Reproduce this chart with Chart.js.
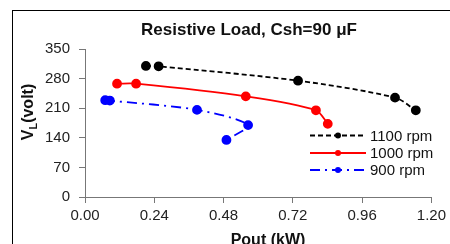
<!DOCTYPE html>
<html>
<head>
<meta charset="utf-8">
<script src="https://cdn.jsdelivr.net/npm/chart.js@4/dist/chart.umd.min.js"></script>
<style>
  html, body { margin: 0; padding: 0; background: #fff; }
  #wrap { width: 450px; height: 244px; position: relative; }
</style>
</head>
<body>
<div id="wrap"><canvas id="vlChart" width="450" height="244"></canvas></div>
<script>
const titleText = 'Resistive Load, Csh=90 μF';
const xTitle = 'Pout (kW)';

const rpm1100 = '1100 rpm';
const pout1100 = [0.211, 0.255, 0.738, 1.074, 1.146];
const vl1100 = [310, 309, 275, 235, 205];

const rpm1000 = '1000 rpm';
const pout1000 = [0.111, 0.177, 0.557, 0.800, 0.841];
const vl1000 = [268, 268, 238, 205, 173];

const rpm900 = '900 rpm';
const pout900 = [0.070, 0.086, 0.388, 0.565, 0.490];
const vl900 = [229, 228, 206, 170, 135];

const xTicks = [0, 0.24, 0.48, 0.72, 0.96, 1.2];
const yTicks = [0, 70, 140, 210, 280, 350];

const toPts = (xs, ys) => xs.map((x, i) => ({ x: x, y: ys[i] }));

// frame, titles and legend drawn on the canvas
const decorPlugin = {
  id: 'decor',
  beforeDraw(chart) {
    const ctx = chart.ctx;
    ctx.save();
    ctx.fillStyle = '#fff';
    ctx.fillRect(0, 0, chart.width, chart.height);
    ctx.strokeStyle = '#000';
    ctx.lineWidth = 1;
    ctx.strokeRect(12.5, 10.5, 600, 400);
    ctx.restore();
  },
  afterDraw(chart) {
    const ctx = chart.ctx;
    ctx.save();
    ctx.fillStyle = '#111';

    ctx.font = 'bold 17px "Liberation Sans", Arial';
    ctx.textAlign = 'center';
    ctx.textBaseline = 'middle';
    ctx.fillText(titleText, 249, 30);

    ctx.font = 'bold 16px "Liberation Sans", Arial';
    ctx.textBaseline = 'alphabetic';
    ctx.fillText(xTitle, 268, 245);

    // y title: V with subscript L
    ctx.translate(33, 112);
    ctx.rotate(-Math.PI / 2);
    ctx.textAlign = 'left';
    const big = 'bold 16px "Liberation Sans", Arial';
    const small = 'bold 11px "Liberation Sans", Arial';
    ctx.font = big;
    const wV = ctx.measureText('V').width;
    const wRest = ctx.measureText('(volt)').width;
    ctx.font = small;
    const wL = ctx.measureText('L').width;
    const x0 = -(wV + wL + wRest) / 2;
    ctx.font = big;
    ctx.fillText('V', x0, 0);
    ctx.font = small;
    ctx.fillText('L', x0 + wV, 4);
    ctx.font = big;
    ctx.fillText('(volt)', x0 + wV + wL, 0);
    ctx.restore();

    // legend inside the plot
    ctx.save();
    ctx.font = '15px "Liberation Sans", Arial';
    ctx.textBaseline = 'middle';
    ctx.textAlign = 'left';
    const rows = [135.5, 153, 170];
    chart.data.datasets.forEach((ds, i) => {
      const y = rows[i];
      ctx.strokeStyle = ds.borderColor;
      ctx.lineWidth = 1.8;
      ctx.setLineDash(ds.borderDash || []);
      ctx.beginPath();
      ctx.moveTo(310, y);
      ctx.lineTo(366, y);
      ctx.stroke();
      ctx.setLineDash([]);
      ctx.fillStyle = ds.backgroundColor;
      ctx.beginPath();
      ctx.arc(338, y, 3, 0, Math.PI * 2);
      ctx.fill();
      ctx.fillStyle = '#111';
      ctx.fillText(ds.label, 370, y + 1);
    });
    ctx.restore();
  }
};

new Chart(document.getElementById('vlChart').getContext('2d'), {
  type: 'scatter',
  data: {
    datasets: [{
      label: rpm1100,
      data: toPts(pout1100, vl1100),
      showLine: true,
      borderColor: '#000',
      backgroundColor: '#000',
      borderDash: [5, 3],
      borderWidth: 1.8,
      pointRadius: 4,
      tension: 0.3
    }, {
      label: rpm1000,
      data: toPts(pout1000, vl1000),
      showLine: true,
      borderColor: '#ff0000',
      backgroundColor: '#ff0000',
      borderWidth: 1.8,
      pointRadius: 4,
      tension: 0.3
    }, {
      label: rpm900,
      data: toPts(pout900, vl900),
      showLine: true,
      borderColor: '#0000ff',
      backgroundColor: '#0000ff',
      borderDash: [10, 5, 2, 5],
      borderWidth: 1.8,
      pointRadius: 4,
      tension: 0.3
    }]
  },
  options: {
    responsive: false,
    animation: false,
    layout: { padding: { left: 0, top: 49, right: 18, bottom: 0 } },
    scales: {
      x: {
        type: 'linear',
        min: 0,
        max: 1.2,
        afterFit: s => { s.height = 47; },
        afterBuildTicks: s => { s.ticks = xTicks.map(v => ({ value: v })); },
        ticks: {
          padding: 4,
          color: '#222',
          font: { family: '"Liberation Sans", Arial', size: 15 },
          callback: v => v.toFixed(2)
        },
        grid: { drawOnChartArea: false, drawTicks: true, tickLength: 6, color: '#777' },
        border: { color: '#777', width: 1 }
      },
      y: {
        min: 0,
        max: 350,
        afterFit: s => { s.width = 85; },
        afterBuildTicks: s => { s.ticks = yTicks.map(v => ({ value: v })); },
        ticks: {
          padding: 9,
          color: '#222',
          font: { family: '"Liberation Sans", Arial', size: 15 }
        },
        grid: { drawOnChartArea: false, drawTicks: true, tickLength: 6, color: '#777' },
        border: { color: '#777', width: 1 }
      }
    },
    plugins: {
      legend: { display: false },
      tooltip: { enabled: false }
    }
  },
  plugins: [decorPlugin]
});
</script>
</body>
</html>
